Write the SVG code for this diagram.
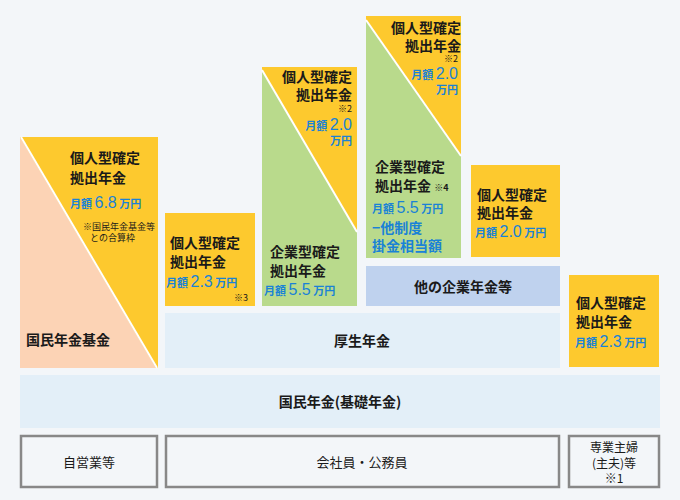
<svg xmlns="http://www.w3.org/2000/svg" width="680" height="500" viewBox="0 0 680 500">
<style>
text{font-family:"Noto Sans CJK JP","Noto Sans",sans-serif;fill:#1a1a1a}
.t{font-size:14px;font-weight:bold}
.b{fill:#1a82d6;font-size:11px;font-weight:bold}
.n{font-size:16px;font-family:"Liberation Sans",sans-serif;font-weight:normal}
.s{font-size:9px}
.y{fill:#fdc92e}
.g{fill:#b9da8c}
.pl{fill:#e3eff8}
.bx{fill:none;stroke:#888;stroke-width:2.5}
.d{stroke:#fff;stroke-width:2}
</style>
<rect width="680" height="500" fill="#f3f6f9"/>
<g id="col1">
<rect x="20" y="137" width="138" height="231" class="y"/>
<polygon points="20,137 156,368 20,368" fill="#fcd3b5"/>
<line x1="21" y1="137" x2="157" y2="368" class="d"/>
<text x="70" y="163" class="t">個人型確定</text>
<text x="70" y="183" class="t">拠出年金</text>
<text x="70" y="208" class="b">月額 <tspan class="n">6.8</tspan> 万円</text>
<text x="83" y="230" class="s">※国民年金基金等</text>
<text x="90" y="241" class="s">との合算枠</text>
<text x="26" y="345" class="t">国民年金基金</text>
</g>
<g id="col2">
<rect x="165" y="213" width="90" height="93" class="y"/>
<text x="170" y="248" class="t">個人型確定</text>
<text x="170" y="267" class="t">拠出年金</text>
<text x="166" y="287" class="b">月額 <tspan class="n">2.3</tspan> 万円</text>
<text x="248" y="301" class="s" text-anchor="end">※3</text>
</g>
<g id="col3">
<rect x="262" y="67" width="95" height="239" class="y"/>
<polygon points="262,70 357,232 357,306 262,306" class="g"/>
<line x1="262" y1="70" x2="357" y2="232" class="d"/>
<text x="352" y="82" class="t" text-anchor="end">個人型確定</text>
<text x="352" y="100" class="t" text-anchor="end">拠出年金</text>
<text x="352" y="112" class="s" text-anchor="end">※2</text>
<text x="352" y="130" class="b" text-anchor="end">月額 <tspan class="n">2.0</tspan></text>
<text x="352" y="145" class="b" text-anchor="end">万円</text>
<text x="270" y="257" class="t">企業型確定</text>
<text x="270" y="276" class="t">拠出年金</text>
<text x="264" y="295" class="b">月額 <tspan class="n">5.5</tspan> 万円</text>
</g>
<g id="col4">
<rect x="366" y="16" width="95" height="242" class="y"/>
<polygon points="366,20 461,156 461,258 366,258" class="g"/>
<line x1="366" y1="20" x2="461" y2="156" class="d"/>
<text x="461" y="33" class="t" text-anchor="end">個人型確定</text>
<text x="461" y="51" class="t" text-anchor="end">拠出年金</text>
<text x="458" y="62" class="s" text-anchor="end">※2</text>
<text x="458" y="79" class="b" text-anchor="end">月額 <tspan class="n">2.0</tspan></text>
<text x="458" y="94" class="b" text-anchor="end">万円</text>
<text x="375" y="172" class="t">企業型確定</text>
<text x="375" y="191" class="t">拠出年金 <tspan class="s">※4</tspan></text>
<text x="372" y="213" class="b">月額 <tspan class="n">5.5</tspan> 万円</text>
<text x="372" y="233" class="b" style="font-size:14px">−他制度</text>
<text x="372" y="251" class="b" style="font-size:14px">掛金相当額</text>
</g>
<g id="other">
<rect x="366" y="266" width="194" height="40" fill="#bfd2ee"/>
<text x="463" y="292" class="t" text-anchor="middle">他の企業年金等</text>
</g>
<g id="col5">
<rect x="471" y="165" width="89" height="92" class="y"/>
<text x="477" y="200" class="t">個人型確定</text>
<text x="477" y="218" class="t">拠出年金</text>
<text x="475" y="237" class="b">月額 <tspan class="n">2.0</tspan> 万円</text>
</g>
<g id="col6">
<rect x="569" y="275" width="90" height="92" class="y"/>
<text x="576" y="308" class="t">個人型確定</text>
<text x="576" y="327" class="t">拠出年金</text>
<text x="575" y="347" class="b">月額 <tspan class="n">2.3</tspan> 万円</text>
</g>
<g id="kosei">
<rect x="165" y="313" width="395" height="55" class="pl"/>
<text x="362" y="346" class="t" text-anchor="middle">厚生年金</text>
</g>
<g id="kokumin">
<rect x="20" y="375" width="640" height="53" class="pl"/>
<text x="340" y="407" class="t" text-anchor="middle">国民年金(基礎年金)</text>
</g>
<g id="cat1"><rect x="21" y="436" width="136" height="51" class="bx"/><text x="89" y="467" font-size="13" text-anchor="middle">自営業等</text></g>
<g id="cat2"><rect x="166" y="436" width="393" height="51" class="bx"/><text x="362" y="467" font-size="13" text-anchor="middle">会社員・公務員</text></g>
<g id="cat3"><rect x="569" y="436" width="90" height="51" class="bx"/>
<text x="614" y="452" font-size="12" text-anchor="middle">専業主婦</text>
<text x="614" y="468" font-size="12" text-anchor="middle">(主夫)等</text>
<text x="614" y="483" font-size="12" text-anchor="middle">※1</text></g>
<g id="connectors"/>
</svg>
